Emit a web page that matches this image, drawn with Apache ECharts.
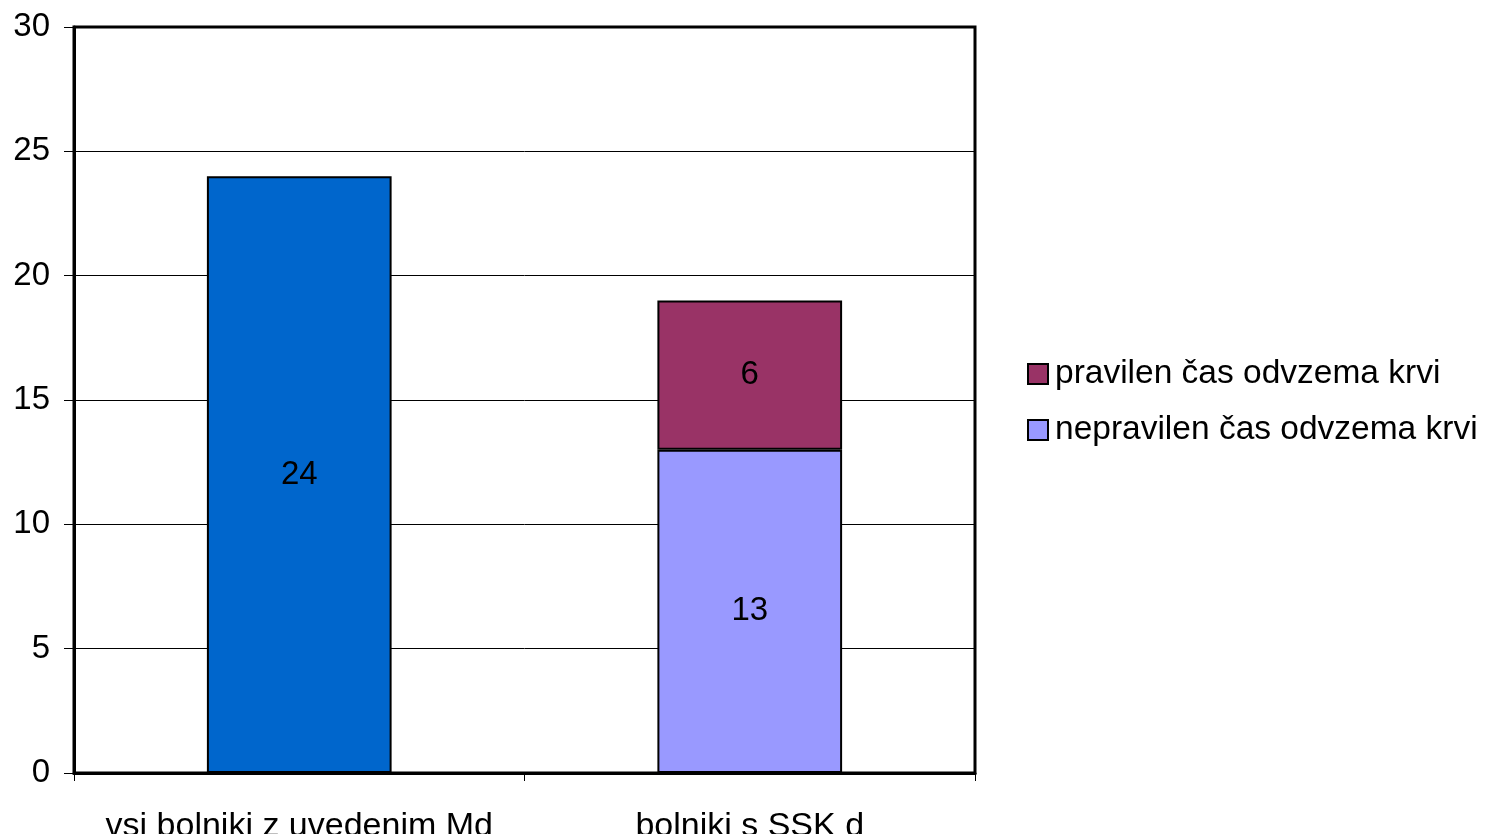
<!DOCTYPE html>
<html>
<head>
<meta charset="utf-8">
<script src="https://cdn.jsdelivr.net/npm/echarts@6/dist/echarts.min.js"></script>
<style>
  html, body { margin: 0; padding: 0; background: #ffffff; }
  #chart { width: 1500px; height: 834px; }
</style>
</head>
<body>
<div id="chart"></div>
<script>
// Patient groups on the category axis
const categories = ['vsi bolniki z uvedenim Md', 'bolniki s SSK d'];

// Counts per group; '-' leaves a slot empty
const allPatients = [24, '-'];
const wrongTiming = ['-', 13];
const rightTiming = ['-', 6];

// Value axis range
const yMin = 0;
const yMax = 30;
const yStep = 5;

const seriesNames = {
  all: 'vsi bolniki',
  wrong: 'nepravilen čas odvzema krvi',
  right: 'pravilen čas odvzema krvi'
};

const FONT = 'Liberation Sans, Arial, sans-serif';

const chart = echarts.init(document.getElementById('chart'), null, { renderer: 'canvas' });

const barLabel = {
  show: true,
  position: 'inside',
  color: '#000000',
  fontFamily: FONT,
  fontSize: 33
};

const barBorder = { borderColor: '#000000', borderWidth: 2 };
const BAR_WIDTH = '41%';

chart.setOption({
  animation: false,
  backgroundColor: '#ffffff',
  grid: {
    left: 74,
    right: 525,
    top: 27,
    bottom: 61,
    outerBoundsMode: 'none',
    containLabel: false,
    show: true,
    borderColor: '#000000',
    borderWidth: 3,
    backgroundColor: 'transparent'
  },
  legend: {
    orient: 'vertical',
    left: 1022,
    top: 352,
    itemWidth: 20,
    itemHeight: 20,
    itemGap: 22,
    icon: 'rect',
    data: [seriesNames.right, seriesNames.wrong],
    textStyle: { color: '#000000', fontFamily: FONT, fontSize: 33.5, padding: [0, 0, 0, 2] },
    itemStyle: { borderColor: '#000000', borderWidth: 2 }
  },
  xAxis: {
    type: 'category',
    data: categories,
    boundaryGap: true,
    axisLine: { show: true, lineStyle: { color: '#000000', width: 3 } },
    axisTick: { show: true, inside: false, length: 8, alignWithLabel: false, lineStyle: { color: '#000000', width: 1 } },
    axisLabel: { color: '#000000', fontFamily: FONT, fontSize: 34, margin: 37, interval: 0 },
    splitLine: { show: false }
  },
  yAxis: {
    type: 'value',
    min: yMin,
    max: yMax,
    interval: yStep,
    axisLine: { show: true, lineStyle: { color: '#000000', width: 3 } },
    axisTick: { show: true, inside: false, length: 10, lineStyle: { color: '#000000', width: 1 } },
    axisLabel: { color: '#000000', fontFamily: FONT, fontSize: 33, margin: 24 },
    splitLine: { show: true, lineStyle: { color: '#000000', width: 1 } }
  },
  series: [
    {
      name: seriesNames.all,
      type: 'bar',
      stack: 'total',
      data: allPatients,
      barWidth: BAR_WIDTH,
      itemStyle: Object.assign({ color: '#0066CC' }, barBorder),
      label: barLabel
    },
    {
      name: seriesNames.wrong,
      type: 'bar',
      stack: 'total',
      data: wrongTiming,
      barWidth: BAR_WIDTH,
      itemStyle: Object.assign({ color: '#9999FF' }, barBorder),
      label: barLabel
    },
    {
      name: seriesNames.right,
      type: 'bar',
      stack: 'total',
      data: rightTiming,
      barWidth: BAR_WIDTH,
      itemStyle: Object.assign({ color: '#993366' }, barBorder),
      label: barLabel
    }
  ]
});
</script>
</body>
</html>
